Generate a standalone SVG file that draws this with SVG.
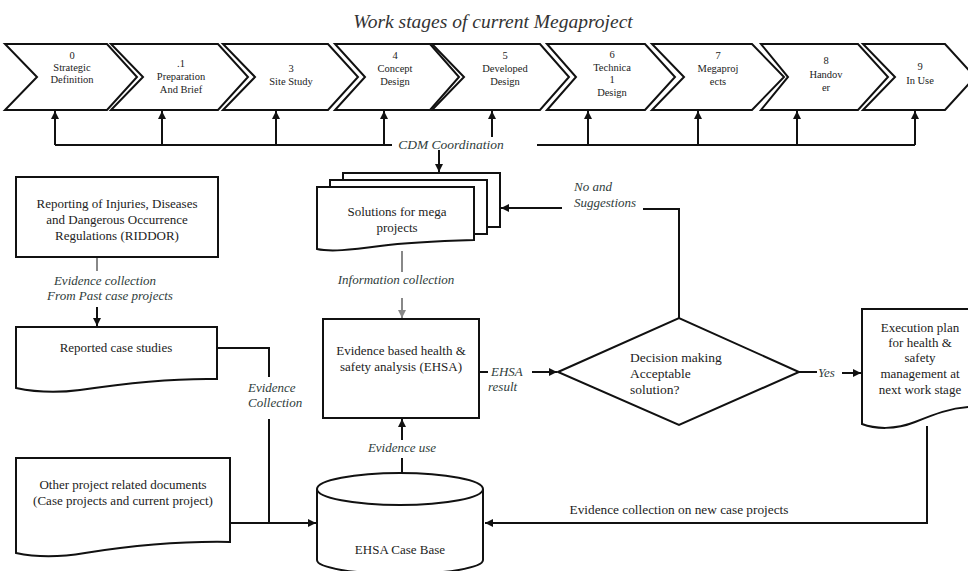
<svg xmlns="http://www.w3.org/2000/svg" width="968" height="571" viewBox="0 0 968 571">
<defs>
<style>
.shape{fill:#fff;stroke:#111;stroke-width:2;stroke-linejoin:miter}
.ln{fill:none;stroke:#111;stroke-width:2}
.gl{fill:none;stroke:#888;stroke-width:2}
.t{font-family:"Liberation Serif","Times New Roman",serif;fill:#222;text-anchor:middle}
.ch{font-size:10.5px}
.bx{font-size:13px}
.it{font-family:"Liberation Serif","Times New Roman",serif;font-style:italic;fill:#2f3d3b;font-size:13px}
</style>
<marker id="ah" viewBox="0 0 8 8" refX="8" refY="4" markerWidth="8" markerHeight="8" markerUnits="userSpaceOnUse" orient="auto"><path d="M0,0 L8,4 L0,8 z" fill="#111"/></marker>
<marker id="ahg" viewBox="0 0 8 8" refX="8" refY="4" markerWidth="8" markerHeight="8" markerUnits="userSpaceOnUse" orient="auto"><path d="M0,0 L8,4 L0,8 z" fill="#888"/></marker>
</defs>
<rect width="968" height="571" fill="#fff"/>
<text class="it" x="493" y="28" style="font-size:19.5px;text-anchor:middle;fill:#333">Work stages of current Megaproject</text>

<g id="stage0"><path class="shape" d="M5,44 H107 L137,77 L107,110 H5 L37,77 Z"/><text class="t ch" x="72" y="59">0</text><text class="t ch" x="72" y="71">Strategic</text><text class="t ch" x="72" y="83">Definition</text></g>
<g id="stage1"><path class="shape" d="M111,44 H218 L248,77 L218,110 H111 L143,77 Z"/><text class="t ch" x="181" y="67">.1</text><text class="t ch" x="181" y="80">Preparation</text><text class="t ch" x="181" y="93">And Brief</text></g>
<g id="stage3"><path class="shape" d="M223,44 H328 L358,77 L328,110 H223 L255,77 Z"/><text class="t ch" x="291" y="72">3</text><text class="t ch" x="291" y="85">Site Study</text></g>
<g id="stage4"><path class="shape" d="M335,44 H430 L459,77 L430,110 H335 L365,77 Z"/><text class="t ch" x="395" y="59">4</text><text class="t ch" x="395" y="72">Concept</text><text class="t ch" x="395" y="85">Design</text></g>
<g id="stage5"><path class="shape" d="M432,44 H540 L569,77 L540,110 H432 L464,77 Z"/><text class="t ch" x="505" y="59">5</text><text class="t ch" x="505" y="72">Developed</text><text class="t ch" x="505" y="85">Design</text></g>
<g id="stage6"><path class="shape" d="M547,44 H645 L675,77 L645,110 H547 L576,77 Z"/><text class="t ch" x="612" y="58">6</text><text class="t ch" x="612" y="71">Technica</text><text class="t ch" x="612" y="83">1</text><text class="t ch" x="612" y="96">Design</text></g>
<g id="stage7"><path class="shape" d="M652,44 H752 L784,77 L752,110 H652 L684,77 Z"/><text class="t ch" x="718" y="59">7</text><text class="t ch" x="718" y="72">Megaproj</text><text class="t ch" x="718" y="85">ects</text></g>
<g id="stage8"><path class="shape" d="M761,44 H858 L888,77 L858,110 H761 L788,77 Z"/><text class="t ch" x="826" y="64">8</text><text class="t ch" x="826" y="78">Handov</text><text class="t ch" x="826" y="91">er</text></g>
<g id="stage9"><path class="shape" d="M863,44 H945 L975,77 L945,110 H863 L895,77 Z"/><text class="t ch" x="920" y="70">9</text><text class="t ch" x="920" y="84">In Use</text></g>

<g id="connectors">
<path class="ln" d="M55,145 H392 M537,145 H915"/>
<path class="ln" d="M55,145 V111" marker-end="url(#ah)"/>
<path class="ln" d="M162,145 V111" marker-end="url(#ah)"/>
<path class="ln" d="M276,145 V111" marker-end="url(#ah)"/>
<path class="ln" d="M384,145 V111" marker-end="url(#ah)"/>
<path class="ln" d="M492,137 V111" marker-end="url(#ah)"/>
<path class="ln" d="M588,145 V111" marker-end="url(#ah)"/>
<path class="ln" d="M698,145 V111" marker-end="url(#ah)"/>
<path class="ln" d="M797,145 V111" marker-end="url(#ah)"/>
<path class="ln" d="M915,145 V111" marker-end="url(#ah)"/>
<path class="ln" d="M439,150 V172" marker-end="url(#ah)"/>
<path class="ln" d="M679,318 V209 H643"/>
<path class="ln" d="M562,208 H501" marker-end="url(#ah)"/>
<path class="gl" d="M402,251 V272"/>
<path class="gl" d="M402,298 V318" marker-end="url(#ahg)"/>
<path class="ln" d="M479,372 H488"/>
<path class="ln" d="M532,372 H557" marker-end="url(#ah)"/>
<path class="ln" d="M799,372 H817"/>
<path class="ln" d="M842,373 H861" marker-end="url(#ah)"/>
<path class="ln" d="M927,426 V523 H485" marker-end="url(#ah)"/>
<path class="ln" d="M402,473 V458"/>
<path class="ln" d="M402,440 V419" marker-end="url(#ah)"/>
<path class="gl" d="M97,258 V271"/>
<path class="ln" d="M97,307 V326" marker-end="url(#ah)"/>
<path class="ln" d="M217,348 H269 V377"/>
<path class="ln" d="M269,419 V523"/>
<path class="ln" d="M230,523 H316" marker-end="url(#ah)"/>
<text class="it" x="451" y="149" style="text-anchor:middle;font-size:13.5px">CDM Coordination</text>
<text class="it" x="574" y="191">No and</text>
<text class="it" x="574" y="207">Suggestions</text>
<text class="it" x="396" y="284" style="text-anchor:middle">Information collection</text>
<text class="it" x="491" y="376">EHSA</text>
<text class="it" x="488" y="391">result</text>
<text class="it" x="818" y="377">Yes</text>
<text class="it" x="402" y="452" style="text-anchor:middle">Evidence use</text>
<text class="it" x="105" y="285" style="text-anchor:middle">Evidence collection</text>
<text class="it" x="110" y="300" style="text-anchor:middle">From Past case projects</text>
<text class="it" x="248" y="392">Evidence</text>
<text class="it" x="248" y="407">Collection</text>
<text class="t bx" x="679" y="514" style="font-size:13.3px">Evidence collection on new case projects</text>
</g>

<g id="riddor"><rect class="shape" x="16" y="177" width="202" height="80"/><text class="t bx" x="117" y="208">Reporting of Injuries, Diseases</text><text class="t bx" x="117" y="224">and Dangerous Occurrence</text><text class="t bx" x="117" y="240">Regulations (RIDDOR)</text></g>
<g id="reported"><path class="shape" d="M16,327 H217 V379 C170,378 120,384 80,390 C50,394 30,391 16,388 Z"/><text class="t bx" x="116" y="352">Reported case studies</text></g>
<g id="otherdocs"><path class="shape" d="M16,458 H230 V542 C180,541 130,546 85,553 C55,558 35,557 16,553 Z"/><text class="t bx" x="123" y="489">Other project related documents</text><text class="t bx" x="123" y="505">(Case projects and current project)</text></g>
<g id="solutions"><rect class="shape" x="343" y="173" width="157" height="54"/><rect class="shape" x="330" y="180" width="157" height="54"/><path class="shape" d="M317,187 H474 V240 C440,241 410,242 380,246 C350,250 330,252 317,249 Z"/><text class="t bx" x="397" y="216">Solutions for mega</text><text class="t bx" x="397" y="232">projects</text></g>
<g id="ehsa"><rect class="shape" x="323" y="319" width="156" height="99"/><text class="t bx" x="401" y="355">Evidence based health &amp;</text><text class="t bx" x="401" y="371">safety analysis (EHSA)</text></g>
<g id="decision"><path class="shape" d="M558,372 L679,318 L799,372 L679,425 Z"/><text class="t bx" x="630" y="362" style="text-anchor:start;font-size:13.5px">Decision making</text><text class="t bx" x="630" y="378" style="text-anchor:start;font-size:13.5px">Acceptable</text><text class="t bx" x="630" y="394" style="text-anchor:start;font-size:13.5px">solution?</text></g>
<g id="execplan"><path class="shape" d="M862,309 H970 V407 C950,408 935,414 915,422 C895,430 875,429 862,424 Z"/><text class="t bx" x="920" y="332">Execution plan</text><text class="t bx" x="920" y="347">for health &amp;</text><text class="t bx" x="920" y="362">safety</text><text class="t bx" x="920" y="378">management at</text><text class="t bx" x="920" y="394">next work stage</text></g>
<g id="casebase"><path class="shape" d="M317,489 V560 A83,14 0 0 0 483,560 V489"/><ellipse class="shape" cx="400" cy="489" rx="83" ry="16"/><text class="t bx" x="400" y="554">EHSA Case Base</text></g>
</svg>
